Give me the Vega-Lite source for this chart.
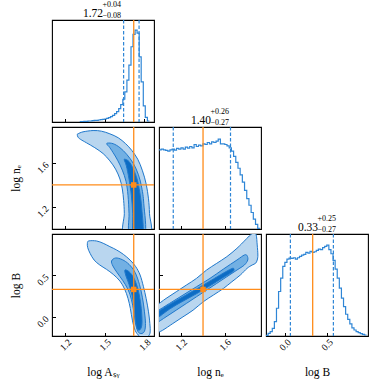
{
  "$schema": "https://vega.github.io/schema/vega-lite/v6.json",
  "padding": {"left": 9, "top": 0, "right": 0, "bottom": 0},
  "columns": 3,
  "spacing": 5,
  "bounds": "flush",
  "align": "all",
  "config": {
    "font": "Liberation Serif",
    "view": {"stroke": "black", "strokeWidth": 1.1},
    "axis": {"domain": false, "grid": false, "tickSize": -3.5, "tickColor": "black", "tickWidth": 1, "labelFont": "Liberation Serif", "labelFontSize": 9.5, "labelColor": "black", "titleFont": "Liberation Serif", "titleFontSize": 11.5, "titleFontWeight": "normal", "titleColor": "black"}
  },
  "datasets": {
    "truth": [{"A": 1.7186, "ne": 1.4015, "B": 0.332}],
    "qA": [{"A": 1.642}, {"A": 1.759}],
    "qne": [{"ne": 1.130}, {"ne": 1.652}],
    "qB": [{"B": 0.066}, {"B": 0.579}],
    "hA": [
      {"A": 1.310, "h": 1}, {"A": 1.326, "h": 1}, {"A": 1.341, "h": 2}, {"A": 1.357, "h": 2}, {"A": 1.372, "h": 3}, {"A": 1.388, "h": 3}, {"A": 1.403, "h": 4}, {"A": 1.419, "h": 5}, {"A": 1.434, "h": 5}, {"A": 1.450, "h": 6}, {"A": 1.465, "h": 7}, {"A": 1.481, "h": 8}, {"A": 1.496, "h": 9}, {"A": 1.512, "h": 11}, {"A": 1.527, "h": 13}, {"A": 1.543, "h": 16}, {"A": 1.558, "h": 20}, {"A": 1.574, "h": 25}, {"A": 1.589, "h": 31}, {"A": 1.605, "h": 40}, {"A": 1.620, "h": 52}, {"A": 1.636, "h": 68}, {"A": 1.651, "h": 90}, {"A": 1.667, "h": 125}, {"A": 1.682, "h": 170}, {"A": 1.698, "h": 225}, {"A": 1.713, "h": 262}, {"A": 1.729, "h": 275}, {"A": 1.744, "h": 266}, {"A": 1.760, "h": 195}, {"A": 1.775, "h": 120}, {"A": 1.791, "h": 48}, {"A": 1.806, "h": 14}, {"A": 1.822, "h": 3}, {"A": 1.837, "h": 3}
    ],
    "hne": [
      {"ne": 1.00, "h": 240}, {"ne": 1.02, "h": 242}, {"ne": 1.04, "h": 240}, {"ne": 1.06, "h": 238}, {"ne": 1.08, "h": 236}, {"ne": 1.10, "h": 240}, {"ne": 1.12, "h": 242}, {"ne": 1.14, "h": 239}, {"ne": 1.16, "h": 244}, {"ne": 1.18, "h": 242}, {"ne": 1.20, "h": 246}, {"ne": 1.22, "h": 242}, {"ne": 1.24, "h": 248}, {"ne": 1.26, "h": 245}, {"ne": 1.28, "h": 250}, {"ne": 1.30, "h": 246}, {"ne": 1.32, "h": 256}, {"ne": 1.34, "h": 250}, {"ne": 1.36, "h": 254}, {"ne": 1.38, "h": 252}, {"ne": 1.40, "h": 258}, {"ne": 1.42, "h": 256}, {"ne": 1.44, "h": 262}, {"ne": 1.46, "h": 258}, {"ne": 1.48, "h": 264}, {"ne": 1.50, "h": 262}, {"ne": 1.52, "h": 266}, {"ne": 1.54, "h": 272}, {"ne": 1.56, "h": 258}, {"ne": 1.58, "h": 258}, {"ne": 1.60, "h": 256}, {"ne": 1.62, "h": 252}, {"ne": 1.64, "h": 246}, {"ne": 1.66, "h": 236}, {"ne": 1.68, "h": 220}, {"ne": 1.70, "h": 202}, {"ne": 1.72, "h": 184}, {"ne": 1.74, "h": 164}, {"ne": 1.76, "h": 142}, {"ne": 1.78, "h": 117}, {"ne": 1.80, "h": 92}, {"ne": 1.82, "h": 72}, {"ne": 1.84, "h": 50}, {"ne": 1.86, "h": 30}, {"ne": 1.88, "h": 14}, {"ne": 1.90, "h": 2}, {"ne": 1.92, "h": 2}
    ],
    "hB": [
      {"B": -0.225, "h": 2}, {"B": -0.200, "h": 8}, {"B": -0.175, "h": 13}, {"B": -0.150, "h": 23}, {"B": -0.125, "h": 43}, {"B": -0.100, "h": 83}, {"B": -0.075, "h": 133}, {"B": -0.050, "h": 173}, {"B": -0.025, "h": 208}, {"B": 0.000, "h": 220}, {"B": 0.025, "h": 230}, {"B": 0.050, "h": 233}, {"B": 0.075, "h": 232}, {"B": 0.100, "h": 234}, {"B": 0.125, "h": 230}, {"B": 0.150, "h": 234}, {"B": 0.175, "h": 238}, {"B": 0.200, "h": 242}, {"B": 0.225, "h": 244}, {"B": 0.250, "h": 250}, {"B": 0.275, "h": 248}, {"B": 0.300, "h": 253}, {"B": 0.325, "h": 250}, {"B": 0.350, "h": 252}, {"B": 0.375, "h": 256}, {"B": 0.400, "h": 260}, {"B": 0.425, "h": 258}, {"B": 0.450, "h": 264}, {"B": 0.475, "h": 268}, {"B": 0.500, "h": 272}, {"B": 0.525, "h": 258}, {"B": 0.550, "h": 246}, {"B": 0.575, "h": 226}, {"B": 0.600, "h": 200}, {"B": 0.625, "h": 173}, {"B": 0.650, "h": 143}, {"B": 0.675, "h": 113}, {"B": 0.700, "h": 88}, {"B": 0.725, "h": 65}, {"B": 0.750, "h": 50}, {"B": 0.775, "h": 36}, {"B": 0.800, "h": 24}, {"B": 0.825, "h": 18}, {"B": 0.850, "h": 13}, {"B": 0.875, "h": 10}, {"B": 0.900, "h": 7}, {"B": 0.925, "h": 5}, {"B": 0.950, "h": 3}, {"B": 0.975, "h": 3}
    ],
    "cAne": [
      {"level": 1, "i": 0, "A": 1.2966, "ne": 1.8677}, {"level": 1, "i": 1, "A": 1.3347, "ne": 1.8858}, {"level": 1, "i": 2, "A": 1.4110, "ne": 1.8978}, {"level": 1, "i": 3, "A": 1.4745, "ne": 1.8918}, {"level": 1, "i": 4, "A": 1.5381, "ne": 1.8677}, {"level": 1, "i": 5, "A": 1.6016, "ne": 1.8316}, {"level": 1, "i": 6, "A": 1.6576, "ne": 1.7775}, {"level": 1, "i": 7, "A": 1.7033, "ne": 1.7173}, {"level": 1, "i": 8, "A": 1.7491, "ne": 1.6361}, {"level": 1, "i": 9, "A": 1.7847, "ne": 1.5308}, {"level": 1, "i": 10, "A": 1.8126, "ne": 1.4105}, {"level": 1, "i": 11, "A": 1.8304, "ne": 1.2751}, {"level": 1, "i": 12, "A": 1.8380, "ne": 1.1398}, {"level": 1, "i": 13, "A": 1.8406, "ne": 0.95}, {"level": 1, "i": 14, "A": 1.6474, "ne": 0.95}, {"level": 1, "i": 15, "A": 1.6474, "ne": 1.1398}, {"level": 1, "i": 16, "A": 1.6423, "ne": 1.2601}, {"level": 1, "i": 17, "A": 1.6321, "ne": 1.3654}, {"level": 1, "i": 18, "A": 1.6143, "ne": 1.4556}, {"level": 1, "i": 19, "A": 1.5813, "ne": 1.5459}, {"level": 1, "i": 20, "A": 1.5381, "ne": 1.6211}, {"level": 1, "i": 21, "A": 1.4873, "ne": 1.6872}, {"level": 1, "i": 22, "A": 1.4237, "ne": 1.7414}, {"level": 1, "i": 23, "A": 1.3601, "ne": 1.7865}, {"level": 1, "i": 24, "A": 1.3169, "ne": 1.8166}, {"level": 1, "i": 25, "A": 1.2966, "ne": 1.8376}, {"level": 1, "i": 26, "A": 1.2915, "ne": 1.8617},
      {"level": 2, "i": 0, "A": 1.5203, "ne": 1.7835}, {"level": 2, "i": 1, "A": 1.5635, "ne": 1.7775}, {"level": 2, "i": 2, "A": 1.6143, "ne": 1.7414}, {"level": 2, "i": 3, "A": 1.6652, "ne": 1.6812}, {"level": 2, "i": 4, "A": 1.7160, "ne": 1.5970}, {"level": 2, "i": 5, "A": 1.7542, "ne": 1.4947}, {"level": 2, "i": 6, "A": 1.7796, "ne": 1.3744}, {"level": 2, "i": 7, "A": 1.7948, "ne": 1.2300}, {"level": 2, "i": 8, "A": 1.8024, "ne": 0.95}, {"level": 2, "i": 9, "A": 1.6880, "ne": 0.95}, {"level": 2, "i": 10, "A": 1.6830, "ne": 1.1398}, {"level": 2, "i": 11, "A": 1.6754, "ne": 1.3052}, {"level": 2, "i": 12, "A": 1.6601, "ne": 1.4346}, {"level": 2, "i": 13, "A": 1.6321, "ne": 1.5368}, {"level": 2, "i": 14, "A": 1.5966, "ne": 1.6271}, {"level": 2, "i": 15, "A": 1.5610, "ne": 1.6993}, {"level": 2, "i": 16, "A": 1.5305, "ne": 1.7534}, {"level": 2, "i": 17, "A": 1.5152, "ne": 1.7715},
      {"level": 3, "i": 0, "A": 1.6525, "ne": 1.6361}, {"level": 3, "i": 1, "A": 1.6830, "ne": 1.6150}, {"level": 3, "i": 2, "A": 1.7160, "ne": 1.5459}, {"level": 3, "i": 3, "A": 1.7440, "ne": 1.4556}, {"level": 3, "i": 4, "A": 1.7643, "ne": 1.3353}, {"level": 3, "i": 5, "A": 1.7796, "ne": 1.1849}, {"level": 3, "i": 6, "A": 1.7872, "ne": 0.95}, {"level": 3, "i": 7, "A": 1.7160, "ne": 0.95}, {"level": 3, "i": 8, "A": 1.7109, "ne": 1.1398}, {"level": 3, "i": 9, "A": 1.7008, "ne": 1.3052}, {"level": 3, "i": 10, "A": 1.6830, "ne": 1.4556}, {"level": 3, "i": 11, "A": 1.6627, "ne": 1.5759}, {"level": 3, "i": 12, "A": 1.6474, "ne": 1.6271}
    ],
    "cAB": [
      {"level": 1, "i": 0, "A": 1.3678, "B": 0.884}, {"level": 1, "i": 1, "A": 1.3779, "B": 0.912}, {"level": 1, "i": 2, "A": 1.4364, "B": 0.912}, {"level": 1, "i": 3, "A": 1.4873, "B": 0.884}, {"level": 1, "i": 4, "A": 1.5381, "B": 0.844}, {"level": 1, "i": 5, "A": 1.5889, "B": 0.804}, {"level": 1, "i": 6, "A": 1.6398, "B": 0.752}, {"level": 1, "i": 7, "A": 1.6906, "B": 0.684}, {"level": 1, "i": 8, "A": 1.7338, "B": 0.604}, {"level": 1, "i": 9, "A": 1.7669, "B": 0.504}, {"level": 1, "i": 10, "A": 1.7923, "B": 0.364}, {"level": 1, "i": 11, "A": 1.8126, "B": 0.224}, {"level": 1, "i": 12, "A": 1.8304, "B": 0.064}, {"level": 1, "i": 13, "A": 1.8406, "B": -0.076}, {"level": 1, "i": 14, "A": 1.8431, "B": -0.176}, {"level": 1, "i": 15, "A": 1.8304, "B": -0.224}, {"level": 1, "i": 16, "A": 1.7923, "B": -0.248}, {"level": 1, "i": 17, "A": 1.7593, "B": -0.224}, {"level": 1, "i": 18, "A": 1.7287, "B": -0.156}, {"level": 1, "i": 19, "A": 1.7084, "B": -0.036}, {"level": 1, "i": 20, "A": 1.6931, "B": 0.104}, {"level": 1, "i": 21, "A": 1.6754, "B": 0.224}, {"level": 1, "i": 22, "A": 1.6499, "B": 0.336}, {"level": 1, "i": 23, "A": 1.6143, "B": 0.432}, {"level": 1, "i": 24, "A": 1.5635, "B": 0.512}, {"level": 1, "i": 25, "A": 1.5127, "B": 0.572}, {"level": 1, "i": 26, "A": 1.4618, "B": 0.624}, {"level": 1, "i": 27, "A": 1.4186, "B": 0.684}, {"level": 1, "i": 28, "A": 1.3881, "B": 0.764}, {"level": 1, "i": 29, "A": 1.3703, "B": 0.832},
      {"level": 2, "i": 0, "A": 1.5508, "B": 0.672}, {"level": 2, "i": 1, "A": 1.5813, "B": 0.708}, {"level": 2, "i": 2, "A": 1.6321, "B": 0.688}, {"level": 2, "i": 3, "A": 1.6830, "B": 0.632}, {"level": 2, "i": 4, "A": 1.7287, "B": 0.536}, {"level": 2, "i": 5, "A": 1.7618, "B": 0.392}, {"level": 2, "i": 6, "A": 1.7847, "B": 0.232}, {"level": 2, "i": 7, "A": 1.7999, "B": 0.064}, {"level": 2, "i": 8, "A": 1.8075, "B": -0.076}, {"level": 2, "i": 9, "A": 1.7999, "B": -0.168}, {"level": 2, "i": 10, "A": 1.7745, "B": -0.196}, {"level": 2, "i": 11, "A": 1.7491, "B": -0.168}, {"level": 2, "i": 12, "A": 1.7313, "B": -0.064}, {"level": 2, "i": 13, "A": 1.7186, "B": 0.072}, {"level": 2, "i": 14, "A": 1.7008, "B": 0.212}, {"level": 2, "i": 15, "A": 1.6754, "B": 0.332}, {"level": 2, "i": 16, "A": 1.6347, "B": 0.44}, {"level": 2, "i": 17, "A": 1.5914, "B": 0.536}, {"level": 2, "i": 18, "A": 1.5610, "B": 0.612},
      {"level": 3, "i": 0, "A": 1.6525, "B": 0.564}, {"level": 3, "i": 1, "A": 1.6830, "B": 0.544}, {"level": 3, "i": 2, "A": 1.7186, "B": 0.472}, {"level": 3, "i": 3, "A": 1.7491, "B": 0.344}, {"level": 3, "i": 4, "A": 1.7694, "B": 0.184}, {"level": 3, "i": 5, "A": 1.7796, "B": 0.024}, {"level": 3, "i": 6, "A": 1.7796, "B": -0.096}, {"level": 3, "i": 7, "A": 1.7643, "B": -0.152}, {"level": 3, "i": 8, "A": 1.7440, "B": -0.136}, {"level": 3, "i": 9, "A": 1.7313, "B": -0.036}, {"level": 3, "i": 10, "A": 1.7211, "B": 0.124}, {"level": 3, "i": 11, "A": 1.7058, "B": 0.264}, {"level": 3, "i": 12, "A": 1.6830, "B": 0.392}, {"level": 3, "i": 13, "A": 1.6576, "B": 0.504}
    ],
    "cneB": [
      {"level": 1, "i": 0, "ne": 0.9108, "B": 0.084}, {"level": 1, "i": 1, "ne": 0.9723, "B": 0.136}, {"level": 1, "i": 2, "ne": 1.064, "B": 0.224}, {"level": 1, "i": 3, "ne": 1.1569, "B": 0.304}, {"level": 1, "i": 4, "ne": 1.2492, "B": 0.384}, {"level": 1, "i": 5, "ne": 1.3415, "B": 0.464}, {"level": 1, "i": 6, "ne": 1.4338, "B": 0.564}, {"level": 1, "i": 7, "ne": 1.5262, "B": 0.644}, {"level": 1, "i": 8, "ne": 1.6185, "B": 0.724}, {"level": 1, "i": 9, "ne": 1.7108, "B": 0.824}, {"level": 1, "i": 10, "ne": 1.7877, "B": 0.924}, {"level": 1, "i": 11, "ne": 1.8338, "B": 0.984}, {"level": 1, "i": 12, "ne": 1.8646, "B": 1.004}, {"level": 1, "i": 13, "ne": 1.8862, "B": 0.984}, {"level": 1, "i": 14, "ne": 1.8954, "B": 0.864}, {"level": 1, "i": 15, "ne": 1.9015, "B": 0.744}, {"level": 1, "i": 16, "ne": 1.8954, "B": 0.684}, {"level": 1, "i": 17, "ne": 1.88, "B": 0.644}, {"level": 1, "i": 18, "ne": 1.8492, "B": 0.624}, {"level": 1, "i": 19, "ne": 1.8031, "B": 0.584}, {"level": 1, "i": 20, "ne": 1.7415, "B": 0.504}, {"level": 1, "i": 21, "ne": 1.6646, "B": 0.424}, {"level": 1, "i": 22, "ne": 1.5877, "B": 0.344}, {"level": 1, "i": 23, "ne": 1.4954, "B": 0.264}, {"level": 1, "i": 24, "ne": 1.4031, "B": 0.184}, {"level": 1, "i": 25, "ne": 1.3108, "B": 0.084}, {"level": 1, "i": 26, "ne": 1.2185, "B": 0.004}, {"level": 1, "i": 27, "ne": 1.1262, "B": -0.076}, {"level": 1, "i": 28, "ne": 1.0338, "B": -0.156}, {"level": 1, "i": 29, "ne": 0.9723, "B": -0.196}, {"level": 1, "i": 30, "ne": 0.9108, "B": -0.248},
      {"level": 2, "i": 0, "ne": 0.9108, "B": 0.016}, {"level": 2, "i": 1, "ne": 0.9723, "B": 0.064}, {"level": 2, "i": 2, "ne": 1.0954, "B": 0.164}, {"level": 2, "i": 3, "ne": 1.2185, "B": 0.264}, {"level": 2, "i": 4, "ne": 1.3415, "B": 0.364}, {"level": 2, "i": 5, "ne": 1.4646, "B": 0.464}, {"level": 2, "i": 6, "ne": 1.5877, "B": 0.576}, {"level": 2, "i": 7, "ne": 1.7108, "B": 0.684}, {"level": 2, "i": 8, "ne": 1.7785, "B": 0.744}, {"level": 2, "i": 9, "ne": 1.8031, "B": 0.736}, {"level": 2, "i": 10, "ne": 1.8092, "B": 0.684}, {"level": 2, "i": 11, "ne": 1.7785, "B": 0.624}, {"level": 2, "i": 12, "ne": 1.7108, "B": 0.564}, {"level": 2, "i": 13, "ne": 1.6185, "B": 0.484}, {"level": 2, "i": 14, "ne": 1.5262, "B": 0.404}, {"level": 2, "i": 15, "ne": 1.4338, "B": 0.324}, {"level": 2, "i": 16, "ne": 1.3415, "B": 0.244}, {"level": 2, "i": 17, "ne": 1.2492, "B": 0.164}, {"level": 2, "i": 18, "ne": 1.1569, "B": 0.084}, {"level": 2, "i": 19, "ne": 1.064, "B": 0.004}, {"level": 2, "i": 20, "ne": 0.9723, "B": -0.076}, {"level": 2, "i": 21, "ne": 0.9108, "B": -0.128},
      {"level": 3, "i": 0, "ne": 0.9108, "B": 0.004}, {"level": 3, "i": 1, "ne": 0.9723, "B": 0.052}, {"level": 3, "i": 2, "ne": 1.0954, "B": 0.152}, {"level": 3, "i": 3, "ne": 1.2185, "B": 0.244}, {"level": 3, "i": 4, "ne": 1.3415, "B": 0.336}, {"level": 3, "i": 5, "ne": 1.4646, "B": 0.432}, {"level": 3, "i": 6, "ne": 1.5877, "B": 0.528}, {"level": 3, "i": 7, "ne": 1.6554, "B": 0.576}, {"level": 3, "i": 8, "ne": 1.68, "B": 0.584}, {"level": 3, "i": 9, "ne": 1.68, "B": 0.552}, {"level": 3, "i": 10, "ne": 1.6338, "B": 0.512}, {"level": 3, "i": 11, "ne": 1.5877, "B": 0.476}, {"level": 3, "i": 12, "ne": 1.4646, "B": 0.376}, {"level": 3, "i": 13, "ne": 1.3415, "B": 0.28}, {"level": 3, "i": 14, "ne": 1.2185, "B": 0.192}, {"level": 3, "i": 15, "ne": 1.0954, "B": 0.096}, {"level": 3, "i": 16, "ne": 0.9723, "B": -0.024}, {"level": 3, "i": 17, "ne": 0.9108, "B": -0.076}
    ]
  },
  "concat": [
    {
      "width": 102, "height": 102,
      "resolve": {"axis": {"x": "independent"}},
      "layer": [
        {"data": {"name": "hA"}, "mark": {"type": "line", "interpolate": "step-after", "color": "#2f86d6", "strokeWidth": 1.2, "clip": true},
         "encoding": {"x": {"field": "A", "type": "quantitative", "scale": {"domain": [1.10, 1.872], "nice": false, "zero": false}, "axis": {"values": [1.2, 1.5, 1.8], "labels": false, "title": null}},
                      "y": {"field": "h", "type": "quantitative", "scale": {"domain": [0, 305], "nice": false}, "axis": {"orient": "right", "labels": false, "ticks": false, "title": ["+0.04", "−0.08"], "titleFontSize": 8, "titleLineHeight": 11.3, "titleX": -52, "titleY": -13.3, "titleAlign": "left", "titleBaseline": "alphabetic", "titleAngle": 0}}}},
        {"data": {"name": "qA"}, "mark": {"type": "rule", "color": "#2f86d6", "strokeWidth": 1.2, "strokeDash": [3.5, 2]},
         "encoding": {"x": {"field": "A", "type": "quantitative", "axis": null}}},
        {"data": {"name": "truth"}, "mark": {"type": "rule", "color": "#ff8c1a", "strokeWidth": 1.3},
         "encoding": {"x": {"field": "A", "type": "quantitative", "axis": {"orient": "top", "labels": false, "ticks": false, "title": "1.72", "titleFontSize": 11.5, "titleX": 40.5, "titleY": -3.3, "titleAlign": "center", "titleBaseline": "alphabetic", "titleAngle": 0}}}}
      ]
    },
    {"width": 102, "height": 102, "view": {"stroke": null}, "data": {"values": []}, "mark": "point"},
    {"width": 102, "height": 102, "view": {"stroke": null}, "data": {"values": []}, "mark": "point"},
    {
      "width": 102, "height": 102,
      "layer": [
        {"data": {"name": "cAne"}, "transform": [{"filter": "datum.level == 1"}], "mark": {"type": "line", "interpolate": "cardinal-closed", "fill": "#b9d6ef", "stroke": "#1f78cc", "strokeWidth": 1, "clip": true},
         "encoding": {"x": {"field": "A", "type": "quantitative", "scale": {"domain": [1.10, 1.872], "nice": false, "zero": false}, "axis": {"values": [1.2, 1.5, 1.8], "labels": false, "title": null}},
                      "y": {"field": "ne", "type": "quantitative", "scale": {"domain": [1.0, 1.93], "nice": false, "zero": false}, "axis": {"values": [1.2, 1.6], "format": ".1f", "labelAngle": -45, "labelAlign": "center", "labelBaseline": "middle", "labelPadding": 13, "labelOffset": 4, "title": "log nₑ", "titleAngle": -90, "titleX": -36, "titleY": 51, "titleAlign": "center", "titleBaseline": "middle"}},
                      "order": {"field": "i", "type": "quantitative"}}},
        {"data": {"name": "cAne"}, "transform": [{"filter": "datum.level == 2"}], "mark": {"type": "line", "interpolate": "cardinal-closed", "fill": "#72b0e3", "stroke": "#1f78cc", "strokeWidth": 1, "clip": true},
         "encoding": {"x": {"field": "A", "type": "quantitative"}, "y": {"field": "ne", "type": "quantitative"}, "order": {"field": "i", "type": "quantitative"}}},
        {"data": {"name": "cAne"}, "transform": [{"filter": "datum.level == 3"}], "mark": {"type": "line", "interpolate": "cardinal-closed", "fill": "#0c6cc4", "stroke": "#1f78cc", "strokeWidth": 1, "clip": true},
         "encoding": {"x": {"field": "A", "type": "quantitative"}, "y": {"field": "ne", "type": "quantitative"}, "order": {"field": "i", "type": "quantitative"}}},
        {"data": {"name": "truth"}, "mark": {"type": "rule", "color": "#ff8c1a", "strokeWidth": 1.3}, "encoding": {"x": {"field": "A", "type": "quantitative"}}},
        {"data": {"name": "truth"}, "mark": {"type": "rule", "color": "#ff8c1a", "strokeWidth": 1.3}, "encoding": {"y": {"field": "ne", "type": "quantitative"}}},
        {"data": {"name": "truth"}, "mark": {"type": "point", "shape": "square", "filled": true, "color": "#ff8c1a", "size": 30, "opacity": 1},
         "encoding": {"x": {"field": "A", "type": "quantitative"}, "y": {"field": "ne", "type": "quantitative"}}}
      ]
    },
    {
      "width": 102, "height": 102,
      "resolve": {"axis": {"x": "independent"}},
      "layer": [
        {"data": {"name": "hne"}, "mark": {"type": "line", "interpolate": "step-after", "color": "#2f86d6", "strokeWidth": 1.2, "clip": true},
         "encoding": {"x": {"field": "ne", "type": "quantitative", "scale": {"domain": [1.0, 1.93], "nice": false, "zero": false}, "axis": {"values": [1.2, 1.6], "labels": false, "title": null}},
                      "y": {"field": "h", "type": "quantitative", "scale": {"domain": [0, 309], "nice": false}, "axis": {"orient": "right", "labels": false, "ticks": false, "title": ["+0.26", "−0.27"], "titleFontSize": 8, "titleLineHeight": 11.3, "titleX": -51, "titleY": -13.3, "titleAlign": "left", "titleBaseline": "alphabetic", "titleAngle": 0}}}},
        {"data": {"name": "qne"}, "mark": {"type": "rule", "color": "#2f86d6", "strokeWidth": 1.2, "strokeDash": [3.5, 2]},
         "encoding": {"x": {"field": "ne", "type": "quantitative", "axis": null}}},
        {"data": {"name": "truth"}, "mark": {"type": "rule", "color": "#ff8c1a", "strokeWidth": 1.3},
         "encoding": {"x": {"field": "ne", "type": "quantitative", "axis": {"orient": "top", "labels": false, "ticks": false, "title": "1.40", "titleFontSize": 11.5, "titleX": 41.5, "titleY": -3.3, "titleAlign": "center", "titleBaseline": "alphabetic", "titleAngle": 0}}}}
      ]
    },
    {"width": 102, "height": 102, "view": {"stroke": null}, "data": {"values": []}, "mark": "point"},
    {
      "width": 102, "height": 102,
      "layer": [
        {"data": {"name": "cAB"}, "transform": [{"filter": "datum.level == 1"}], "mark": {"type": "line", "interpolate": "cardinal-closed", "fill": "#b9d6ef", "stroke": "#1f78cc", "strokeWidth": 1, "clip": true},
         "encoding": {"x": {"field": "A", "type": "quantitative", "scale": {"domain": [1.10, 1.872], "nice": false, "zero": false}, "axis": {"values": [1.2, 1.5, 1.8], "format": ".1f", "labelAngle": -45, "labelAlign": "center", "labelBaseline": "middle", "labelPadding": 12, "title": "log Aₛᵧ", "titleX": 51, "titleY": 36, "titleAlign": "center", "titleBaseline": "middle"}},
                      "y": {"field": "B", "type": "quantitative", "scale": {"domain": [-0.225, 0.995], "nice": false, "zero": false}, "axis": {"values": [0.0, 0.5], "format": ".1f", "labelAngle": -45, "labelAlign": "center", "labelBaseline": "middle", "labelPadding": 13, "labelOffset": 4, "title": "log B", "titleAngle": -90, "titleX": -36, "titleY": 51, "titleAlign": "center", "titleBaseline": "middle"}},
                      "order": {"field": "i", "type": "quantitative"}}},
        {"data": {"name": "cAB"}, "transform": [{"filter": "datum.level == 2"}], "mark": {"type": "line", "interpolate": "cardinal-closed", "fill": "#72b0e3", "stroke": "#1f78cc", "strokeWidth": 1, "clip": true},
         "encoding": {"x": {"field": "A", "type": "quantitative"}, "y": {"field": "B", "type": "quantitative"}, "order": {"field": "i", "type": "quantitative"}}},
        {"data": {"name": "cAB"}, "transform": [{"filter": "datum.level == 3"}], "mark": {"type": "line", "interpolate": "cardinal-closed", "fill": "#0c6cc4", "stroke": "#1f78cc", "strokeWidth": 1, "clip": true},
         "encoding": {"x": {"field": "A", "type": "quantitative"}, "y": {"field": "B", "type": "quantitative"}, "order": {"field": "i", "type": "quantitative"}}},
        {"data": {"name": "truth"}, "mark": {"type": "rule", "color": "#ff8c1a", "strokeWidth": 1.3}, "encoding": {"x": {"field": "A", "type": "quantitative"}}},
        {"data": {"name": "truth"}, "mark": {"type": "rule", "color": "#ff8c1a", "strokeWidth": 1.3}, "encoding": {"y": {"field": "B", "type": "quantitative"}}},
        {"data": {"name": "truth"}, "mark": {"type": "point", "shape": "square", "filled": true, "color": "#ff8c1a", "size": 30, "opacity": 1},
         "encoding": {"x": {"field": "A", "type": "quantitative"}, "y": {"field": "B", "type": "quantitative"}}}
      ]
    },
    {
      "width": 102, "height": 102,
      "layer": [
        {"data": {"name": "cneB"}, "transform": [{"filter": "datum.level == 1"}], "mark": {"type": "line", "interpolate": "cardinal-closed", "fill": "#b9d6ef", "stroke": "#1f78cc", "strokeWidth": 1, "clip": true},
         "encoding": {"x": {"field": "ne", "type": "quantitative", "scale": {"domain": [1.0, 1.93], "nice": false, "zero": false}, "axis": {"values": [1.2, 1.6], "format": ".1f", "labelAngle": -45, "labelAlign": "center", "labelBaseline": "middle", "labelPadding": 12, "title": "log nₑ", "titleX": 51, "titleY": 36, "titleAlign": "center", "titleBaseline": "middle"}},
                      "y": {"field": "B", "type": "quantitative", "scale": {"domain": [-0.225, 0.995], "nice": false, "zero": false}, "axis": {"values": [0.0, 0.5], "labels": false, "title": null}},
                      "order": {"field": "i", "type": "quantitative"}}},
        {"data": {"name": "cneB"}, "transform": [{"filter": "datum.level == 2"}], "mark": {"type": "line", "interpolate": "cardinal-closed", "fill": "#72b0e3", "stroke": "#1f78cc", "strokeWidth": 1, "clip": true},
         "encoding": {"x": {"field": "ne", "type": "quantitative"}, "y": {"field": "B", "type": "quantitative"}, "order": {"field": "i", "type": "quantitative"}}},
        {"data": {"name": "cneB"}, "transform": [{"filter": "datum.level == 3"}], "mark": {"type": "line", "interpolate": "cardinal-closed", "fill": "#0c6cc4", "stroke": "#1f78cc", "strokeWidth": 1, "clip": true},
         "encoding": {"x": {"field": "ne", "type": "quantitative"}, "y": {"field": "B", "type": "quantitative"}, "order": {"field": "i", "type": "quantitative"}}},
        {"data": {"name": "truth"}, "mark": {"type": "rule", "color": "#ff8c1a", "strokeWidth": 1.3}, "encoding": {"x": {"field": "ne", "type": "quantitative"}}},
        {"data": {"name": "truth"}, "mark": {"type": "rule", "color": "#ff8c1a", "strokeWidth": 1.3}, "encoding": {"y": {"field": "B", "type": "quantitative"}}},
        {"data": {"name": "truth"}, "mark": {"type": "point", "shape": "square", "filled": true, "color": "#ff8c1a", "size": 30, "opacity": 1},
         "encoding": {"x": {"field": "ne", "type": "quantitative"}, "y": {"field": "B", "type": "quantitative"}}}
      ]
    },
    {
      "width": 102, "height": 102,
      "resolve": {"axis": {"x": "independent"}},
      "layer": [
        {"data": {"name": "hB"}, "mark": {"type": "line", "interpolate": "step-after", "color": "#2f86d6", "strokeWidth": 1.2, "clip": true},
         "encoding": {"x": {"field": "B", "type": "quantitative", "scale": {"domain": [-0.225, 0.992], "nice": false, "zero": false}, "axis": {"values": [0.0, 0.5], "format": ".1f", "labelAngle": -45, "labelAlign": "center", "labelBaseline": "middle", "labelPadding": 12, "title": "log B", "titleX": 51, "titleY": 36, "titleAlign": "center", "titleBaseline": "middle"}},
                      "y": {"field": "h", "type": "quantitative", "scale": {"domain": [0, 305], "nice": false}, "axis": {"orient": "right", "labels": false, "ticks": false, "title": ["+0.25", "−0.27"], "titleFontSize": 8, "titleLineHeight": 11.3, "titleX": -51, "titleY": -13.3, "titleAlign": "left", "titleBaseline": "alphabetic", "titleAngle": 0}}}},
        {"data": {"name": "qB"}, "mark": {"type": "rule", "color": "#2f86d6", "strokeWidth": 1.2, "strokeDash": [3.5, 2]},
         "encoding": {"x": {"field": "B", "type": "quantitative", "axis": null}}},
        {"data": {"name": "truth"}, "mark": {"type": "rule", "color": "#ff8c1a", "strokeWidth": 1.3},
         "encoding": {"x": {"field": "B", "type": "quantitative", "axis": {"orient": "top", "labels": false, "ticks": false, "title": "0.33", "titleFontSize": 11.5, "titleX": 41.5, "titleY": -3.3, "titleAlign": "center", "titleBaseline": "alphabetic", "titleAngle": 0}}}}
      ]
    }
  ]
}
